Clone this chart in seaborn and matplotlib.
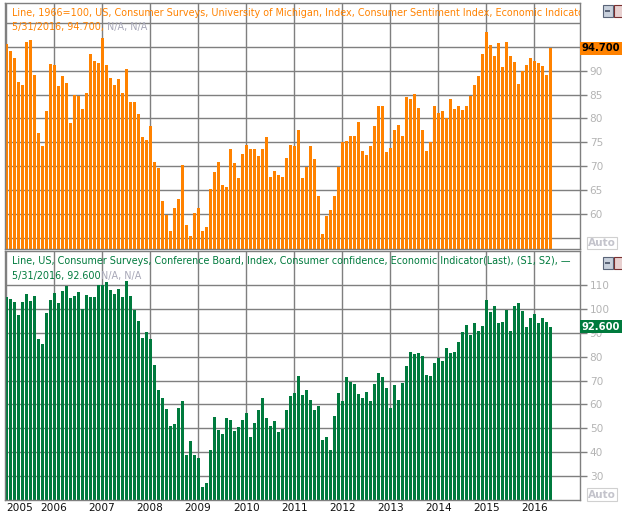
import numpy as np
import pandas as pd
import matplotlib
matplotlib.use("Agg")
import matplotlib.pyplot as plt
import seaborn as sns
from matplotlib.patches import Rectangle


# =========================================
# DATA (monthly, Jan 2005 - May 2016)
# =========================================

years = [2005, 2006, 2007, 2008, 2009, 2010, 2011, 2012, 2013, 2014, 2015, 2016]

# University of Michigan consumer sentiment
mich_2005 = [95.5, 94.1, 92.6, 87.7, 86.9, 96.0, 96.5, 89.1, 76.9, 74.2, 81.6, 91.5]
mich_2006 = [91.2, 86.7, 88.9, 87.4, 79.1, 84.9, 84.7, 82.0, 85.4, 93.6, 92.1, 91.7]
mich_2007 = [96.9, 91.3, 88.4, 87.1, 88.3, 85.3, 90.4, 83.4, 83.4, 80.9, 76.1, 75.5]
mich_2008 = [78.4, 70.8, 69.5, 62.6, 59.8, 56.4, 61.2, 63.0, 70.3, 57.6, 55.3, 60.1]
mich_2009 = [61.2, 56.3, 57.3, 65.1, 68.7, 70.8, 66.0, 65.7, 73.5, 70.6, 67.4, 72.5]
mich_2010 = [74.4, 73.6, 73.6, 72.2, 73.6, 76.0, 67.8, 68.9, 68.2, 67.7, 71.6, 74.5]
mich_2011 = [74.2, 77.5, 67.5, 69.8, 74.3, 71.5, 63.7, 55.8, 59.5, 60.8, 63.7, 69.9]
mich_2012 = [75.0, 75.3, 76.2, 76.4, 79.3, 73.2, 72.3, 74.3, 78.3, 82.6, 82.7, 72.9]
mich_2013 = [73.8, 77.6, 78.6, 76.4, 84.5, 84.1, 85.1, 82.1, 77.5, 73.2, 75.1, 82.5]
mich_2014 = [81.2, 81.6, 80.0, 84.1, 81.9, 82.5, 81.8, 82.5, 84.6, 86.9, 88.8, 93.6]
mich_2015 = [98.1, 95.4, 93.0, 95.9, 90.7, 96.1, 93.1, 91.9, 87.2, 90.0, 91.3, 92.6]
mich_2016 = [92.0, 91.7, 91.0, 89.0, 94.7]

# Conference Board consumer confidence
conf_2005 = [105.1, 104.4, 103.0, 97.5, 103.1, 106.2, 103.6, 105.5, 87.5, 85.2, 98.3, 103.8]
conf_2006 = [106.8, 102.7, 107.5, 109.8, 104.7, 105.4, 107.0, 100.2, 105.9, 105.1, 105.3, 110.0]
conf_2007 = [110.2, 111.2, 108.2, 106.3, 108.5, 105.3, 111.9, 105.6, 99.5, 95.2, 87.8, 90.6]
conf_2008 = [87.3, 76.4, 65.9, 62.8, 58.1, 51.0, 51.9, 58.5, 61.4, 38.8, 44.7, 38.6]
conf_2009 = [37.4, 25.3, 26.9, 40.8, 54.8, 49.3, 47.4, 54.5, 53.4, 48.7, 50.6, 53.6]
conf_2010 = [56.5, 46.4, 52.3, 57.7, 62.7, 54.3, 51.0, 53.2, 48.6, 49.9, 57.8, 63.4]
conf_2011 = [64.8, 72.0, 63.8, 66.0, 61.7, 57.6, 59.2, 45.2, 46.4, 40.9, 55.2, 64.8]
conf_2012 = [61.5, 71.6, 69.5, 68.7, 64.4, 62.7, 65.4, 61.3, 68.4, 73.1, 71.5, 66.7]
conf_2013 = [58.4, 68.0, 61.9, 69.0, 76.2, 82.1, 81.0, 81.8, 80.2, 72.4, 72.0, 77.5]
conf_2014 = [79.4, 78.3, 83.9, 81.7, 82.2, 86.4, 90.3, 93.4, 89.0, 94.1, 91.0, 93.1]
conf_2015 = [103.8, 98.8, 101.4, 94.3, 94.6, 99.8, 91.0, 101.3, 102.6, 99.1, 92.6, 96.3]
conf_2016 = [97.8, 94.0, 96.1, 94.7, 92.6]

mich = (mich_2005 + mich_2006 + mich_2007 + mich_2008 + mich_2009 + mich_2010
        + mich_2011 + mich_2012 + mich_2013 + mich_2014 + mich_2015 + mich_2016)
conf = (conf_2005 + conf_2006 + conf_2007 + conf_2008 + conf_2009 + conf_2010
        + conf_2011 + conf_2012 + conf_2013 + conf_2014 + conf_2015 + conf_2016)

months = pd.date_range("2005-01-31", periods=len(mich), freq="ME")

df = pd.DataFrame({"month": np.arange(len(months)), "mich": mich, "conf": conf})

top_title = ("Line, 1966=100, US, Consumer Surveys, University of Michigan, Index, "
             "Consumer Sentiment Index, Economic Indicator(Last), (S1, S2)")
top_last = "5/31/2016, 94.700, "
bot_title = ("Line, US, Consumer Surveys, Conference Board, Index, Consumer confidence, "
             "Economic Indicator(Last), (S1, S2), \u2014")
bot_last = "5/31/2016, 92.600"
na_text = "N/A, N/A"

top_ticks = [60, 65, 70, 75, 80, 85, 90]
top_grid = [55, 60, 65, 70, 75, 80, 85, 90, 95, 100]
bot_ticks = [30, 40, 50, 60, 70, 80, 90, 100, 110]


# =========================================
# STYLE
# =========================================

sns.set_theme(style="white")
plt.rcParams["font.family"] = ["DejaVu Sans"]

ORANGE = "#FF8200"
GREEN = "#007A3D"
GRID = "#7F7F7F"
LABEL = "#B4B4B4"
TITLE_FS = 6.9

W, H = 622, 517
fig = plt.figure(figsize=(W / 100, H / 100), dpi=100)
fig.patch.set_facecolor("white")


def px_axes(left, top, right, bottom):
    return fig.add_axes([left / W, 1 - bottom / H, (right - left) / W, (bottom - top) / H])


ax1 = px_axes(5, 3, 580, 249)
ax2 = px_axes(5, 251, 580, 500)

xlim = (-0.325, 143.35)
year_pos = [12 * k - 0.075 for k in range(len(years))]


def setup(ax, series, color, ylim, grid_vals, tick_vals):
    sns.barplot(data=df, x="month", y=series, color=color, saturation=1,
                width=0.6, linewidth=0, errorbar=None, ax=ax)
    ax.set_xlim(*xlim)
    ax.set_ylim(*ylim)
    ax.set_axisbelow(True)
    for y in grid_vals:
        ax.axhline(y, color=GRID, lw=1, zorder=0)
    for x in year_pos:
        ax.axvline(x, color=GRID, lw=1, zorder=0)
    ax.set_xticks([])
    ax.set_xlabel("")
    ax.set_ylabel("")
    ax.yaxis.tick_right()
    ax.set_yticks(tick_vals)
    ax.set_yticklabels([str(v) for v in tick_vals])
    ax.tick_params(axis="y", right=True, length=5, width=1, color=GRID,
                   labelcolor=LABEL, labelsize=7.6, pad=2)
    for s in ax.spines.values():
        s.set_color(GRID)
        s.set_linewidth(1)
        s.set_visible(True)


setup(ax1, "mich", ORANGE, (52.6, 104.2), top_grid, top_ticks)
setup(ax2, "conf", GREEN, (19.9, 124.4), bot_ticks, bot_ticks)

# year labels under bottom panel
for k, (x, yr) in enumerate(zip(year_pos, years)):
    ax2.text(x if k else -0.1, -0.012, str(yr),
             transform=ax2.get_xaxis_transform(),
             ha="center" if k else "left", va="top", fontsize=7.6, color="#101010")


# =========================================
# TITLES
# =========================================

def title(ax, y_px, s, color):
    t = ax.text(12 / W, 1 - y_px / H, s, transform=fig.transFigure, ha="left",
                va="center", fontsize=TITLE_FS, color=color, clip_on=True)
    t.set_clip_box(ax.bbox)
    return t


title(ax1, 13.5, top_title, ORANGE)
t1 = title(ax1, 27, top_last, ORANGE)
ax1.annotate(na_text, xy=(1, 0.5), xycoords=t1, ha="left", va="center",
             fontsize=TITLE_FS, color="#A8A8B8")

title(ax2, 261, bot_title, GREEN)
t2 = title(ax2, 275.5, bot_last, GREEN)
ax2.annotate(na_text, xy=(1, 0.5), xycoords=t2, ha="left", va="center",
             fontsize=TITLE_FS, color="#A8A8B8")


# =========================================
# LAST VALUE TAGS
# =========================================

ax1.text(1.003, mich[-1], f"{mich[-1]:.3f}", transform=ax1.get_yaxis_transform(),
         ha="left", va="center", fontsize=7.2, fontweight="bold", color="black",
         clip_on=False, zorder=10,
         bbox=dict(boxstyle="square,pad=0.16", fc=ORANGE, ec="none"))
ax2.text(1.003, conf[-1], f"{conf[-1]:.3f}", transform=ax2.get_yaxis_transform(),
         ha="left", va="center", fontsize=7.2, fontweight="bold", color="white",
         clip_on=False, zorder=10,
         bbox=dict(boxstyle="square,pad=0.16", fc=GREEN, ec="none"))


# =========================================
# DECORATIONS (window buttons, Auto boxes)
# =========================================

def px_rect(x, y, w, h, **kw):
    fig.patches.append(Rectangle((x / W, 1 - (y + h) / H), w / W, h / H,
                                 transform=fig.transFigure, figure=fig, **kw))


for y0 in (4.5, 256.5):
    px_rect(602.5, y0, 10, 12, fc="#C8D0DC", ec="#5A6478", lw=0.8)
    px_rect(605, y0 + 5, 5, 2, fc="#5A6478", ec="none")
    px_rect(614, y0, 9, 12, fc="#E8D0D0", ec="#7A3030", lw=0.8)

for y_c in (243, 494.5):
    fig.text(602 / W, 1 - y_c / H, "Auto", ha="center", va="center", fontsize=7.6,
             fontweight="bold", color="#C4C4CC",
             bbox=dict(boxstyle="square,pad=0.12", fc="white", ec="#D0D0D0", lw=0.8))

plt.savefig("out.png", dpi=100)
